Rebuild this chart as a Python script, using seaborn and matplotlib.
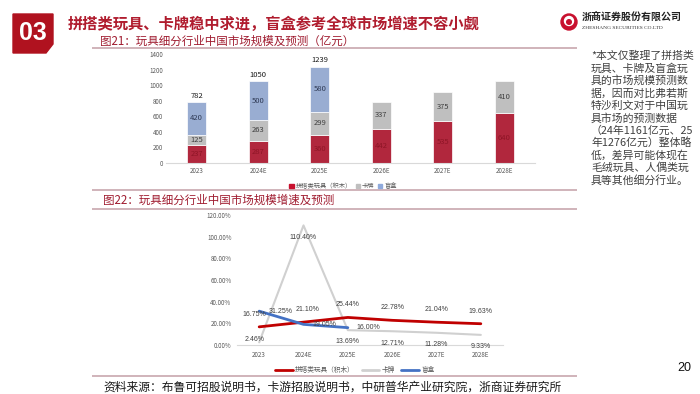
import numpy as np
import matplotlib
matplotlib.use("Agg")
import matplotlib.pyplot as plt
from matplotlib import font_manager
from matplotlib.patches import Polygon, Circle, Patch
from matplotlib.lines import Line2D
from matplotlib.ticker import FuncFormatter
import seaborn as sns

# ---------------- data ----------------
years = ["2023", "2024E", "2025E", "2026E", "2027E", "2028E"]
blind_years = ["2023", "2024E", "2025E"]

# market size, 亿元
brick_size = [237, 287, 360, 442, 535, 640]
card_size = [125, 263, 299, 337, 375, 410]
blind_size = [420, 500, 580]

# growth rate, %
brick_growth = [16.75, 21.10, 25.44, 22.78, 21.04, 19.63]
card_growth = [2.46, 110.40, 13.69, 12.71, 11.28, 9.33]
blind_growth = [31.25, 19.05, 16.00]

series_names = ["拼搭类玩具（积木）", "卡牌", "盲盒"]

title = "拼搭类玩具、卡牌稳中求进，盲盒参考全球市场增速不容小觑"
fig21_title = "图21：玩具细分行业中国市场规模及预测（亿元）"
fig22_title = "图22：玩具细分行业中国市场规模增速及预测"
source = "资料来源：布鲁可招股说明书，卡游招股说明书，中研普华产业研究院，浙商证券研究所"
note_lines = [
    "*本文仅整理了拼搭类",
    "玩具、卡牌及盲盒玩",
    "具的市场规模预测数",
    "据，因而对比弗若斯",
    "特沙利文对于中国玩",
    "具市场的预测数据",
    "（24年1161亿元、25",
    "年1276亿元）整体略",
    "低，差异可能体现在",
    "毛绒玩具、人偶类玩",
    "具等其他细分行业。",
]

# ---------------- style ----------------
RED = "#c8102e"
GRAY = "#bfbfbf"
BLUE = "#8faadc"
LINE_RED = "#c00000"
LINE_GRAY = "#d0d0d0"
LINE_BLUE = "#4472c4"
DARK_RED = "#a01c30"
RULE = "#c8a7ae"
TICK = "#595959"

sns.set_theme(style="white")
plt.rcParams["font.family"] = ["Noto Sans CJK SC", "DejaVu Sans"]

# narrow face for the percentage labels if it is installed
installed = {f.name for f in font_manager.fontManager.ttflist}
NUM_FONT = "Liberation Sans Narrow" if "Liberation Sans Narrow" in installed else "Liberation Sans"
NUM_SIZE = 6 if NUM_FONT == "Liberation Sans Narrow" else 5.0

W, H = 700, 394
fig = plt.figure(figsize=(7, 3.94), dpi=100)


def px_rect(x0, y0, x1, y1):
    return [x0 / W, 1 - y1 / H, (x1 - x0) / W, (y1 - y0) / H]


# background layer in pixel coordinates
bg = fig.add_axes([0, 0, 1, 1])
bg.set_xlim(0, W)
bg.set_ylim(H, 0)
bg.axis("off")

bg.add_patch(Polygon([(13, 14), (53, 14), (53, 44), (46, 53), (13, 53)],
                     closed=True, color="#b0121f"))
bg.text(33, 33, "03", color="white", fontsize=18, fontweight="bold",
        ha="center", va="center", family="Liberation Sans")
bg.text(68, 24, title, color="#b01c2e", fontsize=11, fontweight="bold",
        ha="left", va="center")

# logo
bg.add_patch(Circle((569, 22), 8, color="#c8102e"))
bg.add_patch(Circle((569, 21), 4.5, color="white"))
bg.add_patch(Circle((569, 22), 2.3, color="#c8102e"))
bg.text(582, 17, "浙商证券股份有限公司", fontsize=7.2, fontweight="bold",
        color="#222222", ha="left", va="center")
bg.text(582, 28, "ZHESHANG SECURITIES CO.LTD", fontsize=3.9,
        color="#333333", ha="left", va="center", family="Liberation Serif")

# rules and captions
for yy in (48, 190, 209, 376):
    bg.plot([92, 577], [yy, yy], color=RULE, lw=1.2, solid_capstyle="butt")
bg.text(100, 41, fig21_title, color=DARK_RED, fontsize=8.3, ha="left", va="center")
bg.text(103, 200, fig22_title, color=DARK_RED, fontsize=8.3, ha="left", va="center")
bg.text(103, 387, source, color="#1a1a1a", fontsize=8.5, ha="left", va="center")
bg.text(684, 368, "20", color="#111111", fontsize=9, ha="center", va="center",
        family="Liberation Sans")

for i, line in enumerate(note_lines):
    bg.text(591, 56 + i * 12.4, line, color="#404040", fontsize=7.8,
            ha="left", va="center")

# ---------------- figure 21: stacked bars ----------------
ax1 = fig.add_axes(px_rect(166, 54, 535, 163))
ax1.set_facecolor("none")
bar_kw = dict(order=years, width=0.31, edgecolor="white", linewidth=0.5,
              errorbar=None, ax=ax1)
sns.barplot(x=years, y=brick_size, color=RED, **bar_kw)
sns.barplot(x=years, y=card_size, color=GRAY, bottom=brick_size, **bar_kw)
blind_bottom = [b + c for b, c in zip(brick_size[:3], card_size[:3])]
sns.barplot(x=blind_years, y=blind_size, color=BLUE, bottom=blind_bottom, **bar_kw)

totals = [b + s for b, s in zip(blind_bottom, blind_size)]
ax1.bar_label(ax1.containers[0], labels=[str(v) for v in brick_size],
              label_type="center", fontsize=5.5, color="#8e1526")
ax1.bar_label(ax1.containers[1], labels=[str(v) for v in card_size],
              label_type="center", fontsize=5.5, color="#404040")
ax1.bar_label(ax1.containers[2], labels=[str(v) for v in blind_size],
              label_type="center", fontsize=5.5, color="#2f3a55")
ax1.bar_label(ax1.containers[2], labels=[str(v) for v in totals],
              padding=1.5, fontsize=5.5, color="#1a1a1a")

ax1.set_ylim(0, 1400)
ax1.set_xlim(-0.5, 5.5)
ax1.set_yticks(range(0, 1401, 200))
ax1.tick_params(axis="both", length=0, labelsize=4.5, labelcolor=TICK)
ax1.tick_params(axis="y", pad=2)
ax1.tick_params(axis="x", pad=3)
ax1.set_xlabel("")
ax1.set_ylabel("")
sns.despine(ax=ax1, left=True)
ax1.spines["bottom"].set_color("#d9d9d9")
ax1.spines["bottom"].set_linewidth(0.8)

bar_handles = [Patch(color=c) for c in (RED, GRAY, BLUE)]
fig.legend(bar_handles, series_names, loc="center",
           bbox_to_anchor=(343 / W, 1 - 186 / H), ncol=3, fontsize=4.5,
           frameon=False, handlelength=0.7, handleheight=0.7,
           handletextpad=0.3, columnspacing=0.6, labelcolor=TICK)

# ---------------- figure 22: growth lines ----------------
ax2 = fig.add_axes(px_rect(237, 215, 503, 345))
ax2.set_facecolor("none")
sns.lineplot(x=years, y=card_growth, color=LINE_GRAY, lw=1.5, sort=False, ax=ax2)
sns.lineplot(x=years, y=brick_growth, color=LINE_RED, lw=2, sort=False, ax=ax2)
sns.lineplot(x=blind_years, y=blind_growth, color=LINE_BLUE, lw=2, sort=False, ax=ax2)

lab_kw = dict(textcoords="offset points", ha="center", va="center",
              fontsize=NUM_SIZE, color="#404040", family=NUM_FONT)
for i, v in enumerate(brick_growth):
    off = {0: (-3.5, 9), 1: (3, 9)}.get(i, (0, 9))
    ax2.annotate(f"{v:.2f}%", (i, v), xytext=off, **lab_kw)
for i, v in enumerate(card_growth):
    off = (-3, 2) if i == 0 else (0, -8.5)
    ax2.annotate(f"{v:.2f}%", (i, v), xytext=off, **lab_kw)
for i, v in enumerate(blind_growth):
    off = (15.5, 0) if i == 0 else (15, 0)
    ax2.annotate(f"{v:.2f}%", (i, v), xytext=off, **lab_kw)

ax2.set_ylim(0, 120)
ax2.set_xlim(-0.5, 5.5)
ax2.set_yticks(range(0, 121, 20))
ax2.yaxis.set_major_formatter(FuncFormatter(lambda v, _: f"{v:.2f}%"))
ax2.tick_params(axis="both", length=0, labelsize=4.5, labelcolor=TICK)
ax2.tick_params(axis="y", pad=4)
ax2.tick_params(axis="x", pad=4)
ax2.set_xlabel("")
ax2.set_ylabel("")
sns.despine(ax=ax2, left=True)
ax2.spines["bottom"].set_color("#d9d9d9")
ax2.spines["bottom"].set_linewidth(0.8)

line_handles = [Line2D([], [], color=c, lw=2) for c in (LINE_RED, LINE_GRAY, LINE_BLUE)]
fig.legend(line_handles, series_names, loc="center",
           bbox_to_anchor=(355 / W, 1 - 370 / H), ncol=3, fontsize=4.8,
           frameon=False, handlelength=2.6, handletextpad=0.4,
           columnspacing=1.0, labelcolor=TICK)

fig.savefig("out.png", dpi=100)
